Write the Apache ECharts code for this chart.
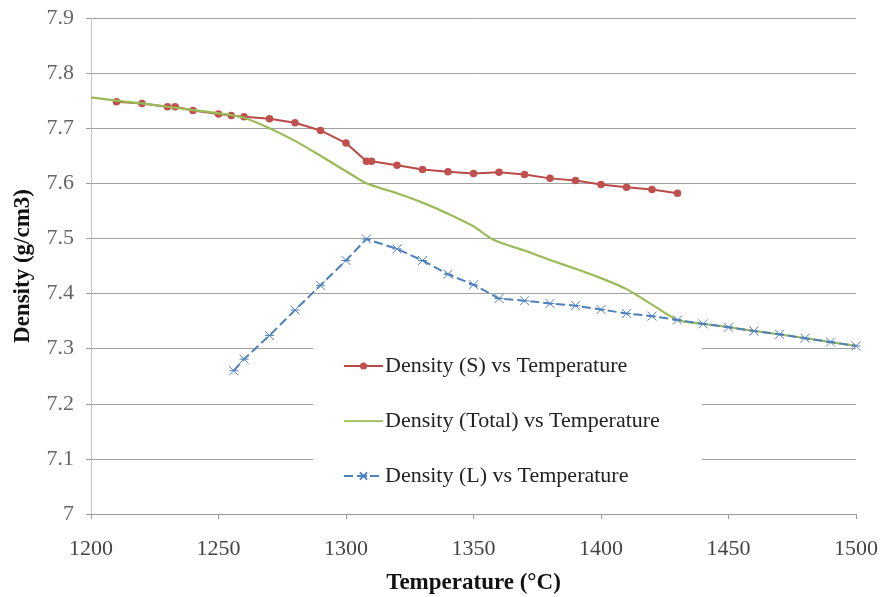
<!DOCTYPE html>
<html>
<head>
<meta charset="utf-8">
<script src="https://cdn.jsdelivr.net/npm/echarts@6/dist/echarts.min.js"></script>
<style>
    html, body {margin: 0; padding: 0; background: #fff;}
    #main {width: 884px; height: 597px;}
</style>
</head>
<body>
<div id="main"></div>
<script>
    // Density (S) vs Temperature
    var tempS = [1210, 1220, 1230, 1233, 1240, 1250, 1255, 1260, 1270, 1280, 1290, 1300, 1308, 1310,
        1320, 1330, 1340, 1350, 1360, 1370, 1380, 1390, 1400, 1410, 1420, 1430];
    var densS = [7.748, 7.745, 7.739, 7.739, 7.732, 7.726, 7.723, 7.721, 7.717, 7.710, 7.696, 7.673, 7.640, 7.640,
        7.633, 7.625, 7.621, 7.618, 7.620, 7.616, 7.609, 7.605, 7.598, 7.593, 7.589, 7.582];

    // Density (Total) vs Temperature
    var tempT = [1200, 1210, 1220, 1230, 1240, 1250, 1260, 1270, 1280, 1290, 1300, 1308, 1320, 1330, 1340,
        1350, 1358, 1370, 1380, 1390, 1400, 1410, 1420, 1430, 1440, 1450, 1460, 1470, 1480, 1490, 1500];
    var densT = [7.756, 7.750, 7.745, 7.739, 7.733, 7.727, 7.719, 7.700, 7.677, 7.650, 7.622, 7.600, 7.582, 7.565, 7.545,
        7.522, 7.497, 7.478, 7.461, 7.445, 7.428, 7.408, 7.380, 7.352, 7.345, 7.339, 7.332, 7.326, 7.319, 7.312, 7.305];

    // Density (L) vs Temperature
    var tempL = [1256, 1260, 1270, 1280, 1290, 1300, 1308, 1320, 1330, 1340, 1350, 1360, 1370, 1380, 1390,
        1400, 1410, 1420, 1430, 1440, 1450, 1460, 1470, 1480, 1490, 1500];
    var densL = [7.260, 7.281, 7.324, 7.370, 7.415, 7.460, 7.499, 7.481, 7.460, 7.435, 7.416, 7.391, 7.387, 7.382, 7.378,
        7.371, 7.364, 7.359, 7.352, 7.345, 7.339, 7.332, 7.326, 7.319, 7.312, 7.305];

    var xTicks = [1200, 1500, 50];
    var yTicks = [7, 7.9, 0.1];

    function pairs(xs, ys) {
        return xs.map(function (x, i) {
            return [x, ys[i]];
        });
    }

    var serif = '"Liberation Serif", "DejaVu Serif", serif';
    // plain line icon for the series without markers (tiny corner dots keep the box size)
    var lineIcon = 'path://M0,0h0.01v0.01h-0.01zM0,3.8h39v1.8h-39zM38.99,9h0.01v0.01h-0.01z';

    var chart = echarts.init(document.getElementById('main'));
    chart.setOption({
        animation: false,
        textStyle: {fontFamily: serif},
        grid: {left: 91, right: 28, top: 18, bottom: 83, containLabel: false, outerBoundsMode: 'none'},
        legend: {
            orient: 'vertical',
            left: 313,
            top: 338,
            padding: [17, 42, 14, 30],
            itemGap: 33,
            itemWidth: 39,
            itemHeight: 9,
            backgroundColor: '#fff',
            textStyle: {fontFamily: serif, fontSize: 22, color: '#222', padding: [0, 0, 0, -3]},
            data: [
                'Density (S) vs Temperature',
                {name: 'Density (Total) vs Temperature', icon: lineIcon},
                'Density (L) vs Temperature'
            ]
        },
        xAxis: {
            type: 'value',
            min: xTicks[0], max: xTicks[1], interval: xTicks[2],
            name: 'Temperature (°C)',
            nameLocation: 'middle',
            nameGap: 58,
            nameTextStyle: {fontFamily: serif, fontSize: 23, fontWeight: 'bold', color: '#111'},
            axisLine: {show: true, lineStyle: {color: '#9a9a9a', width: 1}},
            axisTick: {show: true, length: 5, lineStyle: {color: '#9a9a9a'}},
            axisLabel: {fontFamily: serif, fontSize: 22, color: '#444', margin: 24,
                formatter: function (v) { return String(v); }},
            splitLine: {show: false}
        },
        yAxis: {
            type: 'value',
            min: yTicks[0], max: yTicks[1], interval: yTicks[2],
            name: 'Density (g/cm3)',
            nameLocation: 'middle',
            nameGap: 56,
            nameTextStyle: {fontFamily: serif, fontSize: 23, fontWeight: 'bold', color: '#111'},
            axisLine: {show: true, lineStyle: {color: '#c4c4c4', width: 1}},
            axisTick: {show: true, length: 5, lineStyle: {color: '#9a9a9a'}},
            axisLabel: {fontFamily: serif, fontSize: 22, color: '#666', margin: 17},
            splitLine: {show: true, lineStyle: {color: '#a0a0a0', width: 1}}
        },
        series: [
            {
                name: 'Density (S) vs Temperature',
                type: 'line',
                data: pairs(tempS, densS),
                symbol: 'circle',
                symbolSize: 7.5,
                lineStyle: {color: '#B84A47', width: 2},
                itemStyle: {color: '#C0504D'},
                z: 2
            },
            {
                name: 'Density (Total) vs Temperature',
                type: 'line',
                data: pairs(tempT, densT),
                symbol: 'none',
                smooth: 0.25,
                lineStyle: {color: '#9BBB59', width: 2.2},
                itemStyle: {color: '#9BBB59'},
                z: 3
            },
            {
                name: 'Density (L) vs Temperature',
                type: 'line',
                data: pairs(tempL, densL),
                symbol: 'path://M0,0L10,10M10,0L0,10M0,5L10,5',
                symbolSize: 9,
                lineStyle: {color: '#4F81BD', width: 2, type: [9, 4]},
                itemStyle: {color: '#4F81BD', borderColor: '#4F81BD', borderWidth: 1},
                z: 4
            }
        ]
    });
</script>
</body>
</html>
